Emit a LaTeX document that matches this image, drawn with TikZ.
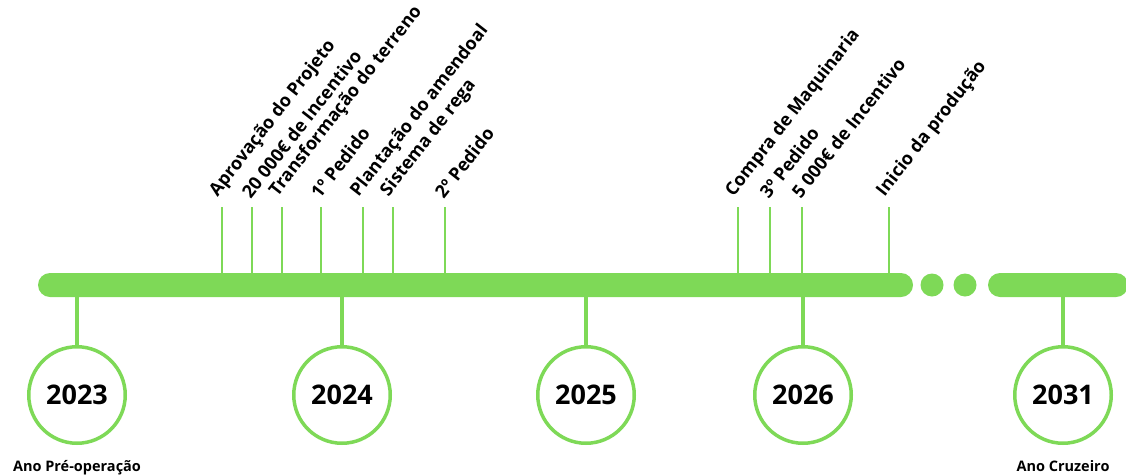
\documentclass[tikz,border=0pt]{standalone}
\usepackage{fontspec}
\setmainfont{Open Sans}
\definecolor{leaf}{HTML}{7ED957}

\tikzset{
  bar/.style={fill=leaf, draw=none, rounded corners=12pt, minimum height=24pt, inner sep=0pt},
  dot/.style={circle, fill=leaf, draw=none, minimum size=23pt, inner sep=0pt},
  tick/.style={draw=leaf, line width=2pt},
  stem/.style={draw=leaf, line width=3.5pt},
  year/.style={circle, draw=leaf, fill=white, line width=3.5pt, minimum size=96.5pt, inner sep=0pt, font=\bfseries\fontsize{27}{30}\selectfont},
  event/.style={rotate=52, anchor=south west, inner sep=0pt, font=\bfseries\fontsize{18}{20}\selectfont},
  note/.style={anchor=base, inner sep=0pt, font=\bfseries\fontsize{14.5}{16}\selectfont}
}

\begin{document}
\begin{tikzpicture}[x=1pt,y=-1pt]
\useasboundingbox (0,0) rectangle (1126,474);

\node[bar, minimum width=875pt] (bar) at (475.5,285) {};
\node[dot] (d1) at (932,285) {};
\node[dot] (d2) at (965,285) {};
\node[bar, minimum width=140pt] (bar2) at (1058,285) {};

\node[year] (y23) at (77,395) {2023};
\node[year] (y24) at (342,395) {2024};
\node[year] (y25) at (586,395) {2025};
\node[year] (y26) at (803,395) {2026};
\node[year] (y31) at (1063,395) {2031};

\draw[stem] (y23.north) -- (y23 |- bar.south);
\draw[stem] (y24.north) -- (y24 |- bar.south);
\draw[stem] (y25.north) -- (y25 |- bar.south);
\draw[stem] (y26.north) -- (y26 |- bar.south);
\draw[stem] (y31.north) -- (y31 |- bar2.south);

\node[note] (n23) at ([yshift=-26pt]y23.south) {Ano Pré-operação};
\node[note] (n31) at ([yshift=-26pt]y31.south) {Ano Cruzeiro};

\coordinate (e1) at (222,207);
\coordinate (e2) at (252,207);
\coordinate (e3) at (282,207);
\coordinate (e4) at (321,207);
\coordinate (e5) at (363,207);
\coordinate (e6) at (393,207);
\coordinate (e7) at (445,207);
\coordinate (e8) at (738,207);
\coordinate (e9) at (770,207);
\coordinate (e10) at (802,207);
\coordinate (e11) at (889,207);

\draw[tick] (e1) -- (e1 |- bar.north);
\draw[tick] (e2) -- (e2 |- bar.north);
\draw[tick] (e3) -- (e3 |- bar.north);
\draw[tick] (e4) -- (e4 |- bar.north);
\draw[tick] (e5) -- (e5 |- bar.north);
\draw[tick] (e6) -- (e6 |- bar.north);
\draw[tick] (e7) -- (e7 |- bar.north);
\draw[tick] (e8) -- (e8 |- bar.north);
\draw[tick] (e9) -- (e9 |- bar.north);
\draw[tick] (e10) -- (e10 |- bar.north);
\draw[tick] (e11) -- (e11 |- bar.north);

\node[event] at ([xshift=-1pt,yshift=7pt]e1) {Aprovação do Projeto};
\node[event] at ([xshift=-1pt,yshift=7pt]e2) {20 000€ de Incentivo};
\node[event] at ([xshift=-1pt,yshift=7pt]e3) {Transformação do terreno};
\node[event] at ([xshift=-1pt,yshift=7pt]e4) {1º Pedido};
\node[event] at ([xshift=-1pt,yshift=7pt]e5) {Plantação do amendoal};
\node[event] at ([xshift=-1pt,yshift=7pt]e6) {Sistema de rega};
\node[event] at ([xshift=-1pt,yshift=7pt]e7) {2º Pedido};
\node[event] at ([xshift=-1pt,yshift=7pt]e8) {Compra de Maquinaria};
\node[event] at ([xshift=-1pt,yshift=7pt]e9) {3º Pedido};
\node[event] at ([xshift=-1pt,yshift=7pt]e10) {5 000€ de Incentivo};
\node[event] at ([xshift=-1pt,yshift=7pt]e11) {Inicio da produção};

\end{tikzpicture}
\end{document}
